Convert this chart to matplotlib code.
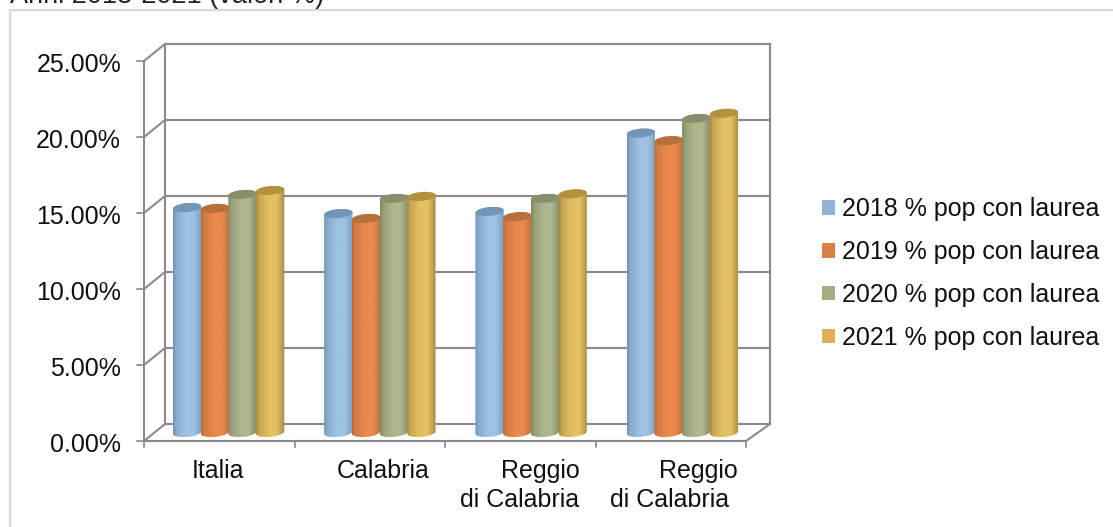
import matplotlib
matplotlib.use("Agg")
import matplotlib.pyplot as plt
from matplotlib.patches import Patch, Polygon
import numpy as np

W, H = 1113, 527

years = ["2018 % pop con laurea", "2019 % pop con laurea",
         "2020 % pop con laurea", "2021 % pop con laurea"]
val_2018 = [14.80, 14.40, 14.54, 19.70]
val_2019 = [14.74, 14.08, 14.20, 19.20]
val_2020 = [15.66, 15.40, 15.40, 20.66]
val_2021 = [15.92, 15.53, 15.70, 21.00]
y_ticks = [0, 5, 10, 15, 20, 25]

# side shade, centre, far side, top cap, legend swatch
palette = [
    ("#6e92b4", "#9dc2e3", "#7c9fc2", "#7396b6", "#93b4d5"),
    ("#b9693a", "#ea8a4c", "#c0733c", "#b8703a", "#dd8048"),
    ("#7f8762", "#afb78c", "#858c68", "#888f6c", "#a5ac82"),
    ("#a98a3e", "#e5c063", "#a88c45", "#b3923f", "#d9b25a"),
]

plt.rcParams["font.family"] = ["Liberation Sans", "DejaVu Sans"]
plt.rcParams["font.size"] = 18

fig = plt.figure(figsize=(W / 100, H / 100), dpi=100)


def fx(x):
    return x / W


def fy(y):
    return 1 - y / H


# the axes is the back wall of the 3D box
wall_l, wall_r, wall_t, wall_b = 165, 770, 44, 424
ax = fig.add_axes([fx(wall_l), fy(wall_b), (wall_r - wall_l) / W, (wall_b - wall_t) / H])
ax.set_xlim(0, 4)
ax.set_ylim(0, 25)
ax.axis("off")

px_x = 4 / (wall_r - wall_l)
px_y = 25 / (wall_b - wall_t)
depth_x, depth_y = -21 * px_x, -17 * px_y
front_step = 150.5 * px_x
GRID = "#8a8a8a"


def box_line(xs, ys, lw=1.5, z=1):
    ax.plot(xs, ys, color=GRID, lw=lw, clip_on=False, zorder=z, solid_capstyle="projecting")


# back wall, gridlines and left wall
for v in y_ticks:
    box_line([0, 4], [v, v])
    box_line([0, depth_x], [v, v + depth_y])
    box_line([depth_x, depth_x - 7 * px_x], [v + depth_y, v + depth_y], lw=1.2)
    ax.text(depth_x - 23 * px_x, v + depth_y - 1.5 * px_y, f"{v:.2f}%", ha="right",
            va="center_baseline", color="#111111", clip_on=False)
box_line([0, 0], [0, 25])
box_line([4, 4], [0, 25])
box_line([depth_x, depth_x], [depth_y, 25 + depth_y])

# floor
box_line([depth_x, depth_x + 4 * front_step], [depth_y, depth_y])
box_line([4, depth_x + 4 * front_step], [0, depth_y])
for k in range(5):
    tx = depth_x + k * front_step
    box_line([tx, tx], [depth_y, depth_y - 6 * px_y], lw=1.2)


def cylinder(cx, value, half_w, colors, z):
    """One shaded cylinder standing on the floor, centre cx in category units."""
    a = half_w
    b = 4.4 * px_y
    tilt = 1.2 * px_y
    base = -8.5 * px_y
    t = np.linspace(0, 2 * np.pi, 80)
    lower = np.linspace(np.pi, 2 * np.pi, 40)
    upper = np.linspace(0, np.pi, 40)

    top_y = base + value
    outline = np.r_[
        np.c_[cx + a * np.cos(lower), base + b * np.sin(lower) + tilt * np.cos(lower)],
        np.c_[cx + a * np.cos(upper), top_y + b * np.sin(upper) + tilt * np.cos(upper)],
    ]
    clip = Polygon(outline, closed=True, transform=ax.transData, fc="none", ec="none")
    ax.add_patch(clip)

    side, mid, far, cap = [np.array(matplotlib.colors.to_rgb(c)) for c in colors[:4]]
    stops = [0, 0.1, 0.45, 0.72, 1]
    shades = np.array([side, (side + mid) / 2, mid, mid, far])
    s = np.linspace(0, 1, 64)
    shade = np.stack([np.interp(s, stops, shades[:, i]) for i in range(3)], axis=1)[None, :, :]
    im = ax.imshow(shade, extent=(cx - a, cx + a, base - 2 * b, top_y + 2 * b),
                   aspect="auto", interpolation="bilinear", zorder=z)
    # the cylinder base hangs below the axes box, so only the outline clips it
    im.set_clip_box(fig.bbox)
    im.set_clip_path(clip)

    ax.fill(cx + a * np.cos(t), top_y + b * np.sin(t) + tilt * np.cos(t),
            color=cap, lw=0, zorder=z + 0.1, clip_on=False)


series = [val_2018, val_2019, val_2020, val_2021]
bar_w = 27.7 * px_x
shift = -12 * px_x
for g in range(4):
    for j, values in enumerate(series):
        cx = g + 0.5 + (j - 1.5) * bar_w + shift
        cylinder(cx, values[g], bar_w / 2 + 0.3 * px_x, palette[j], 3 + j * 0.2)
ax.set_xlim(0, 4)
ax.set_ylim(0, 25)

# category labels, one text per line
for txt, x, y in [("Italia", 218, 478), ("Calabria", 383, 478),
                  ("Reggio", 540, 478), ("di Calabria", 519.5, 507),
                  ("Reggio", 698, 478), ("di Calabria", 670, 507)]:
    fig.text(fx(x), fy(y), txt, ha="center", va="baseline", color="#111111")

# legend
handles = [Patch(facecolor=c[4], edgecolor="none", label=y) for c, y in zip(palette, years)]
fig.legend(handles=handles, loc="center left", bbox_to_anchor=(fx(822), fy(273.5)),
           frameon=False, handlelength=0.53, handleheight=0.53, handletextpad=0.25,
           labelspacing=0.755, borderpad=0, borderaxespad=0, labelcolor="#111111")

# chart frame: only top and left edges are drawn
fig.add_artist(plt.Line2D([fx(10), fx(10), 1], [0, fy(10), fy(10)], color="#d9d9d9", lw=1.6))

# heading sits above the frame and runs off the top
fig.text(fx(10), fy(3), "Anni 2018-2021 (valori %)", ha="left", va="baseline",
         fontsize=19.5, color="#222222")

fig.savefig("out.png", dpi=100)
